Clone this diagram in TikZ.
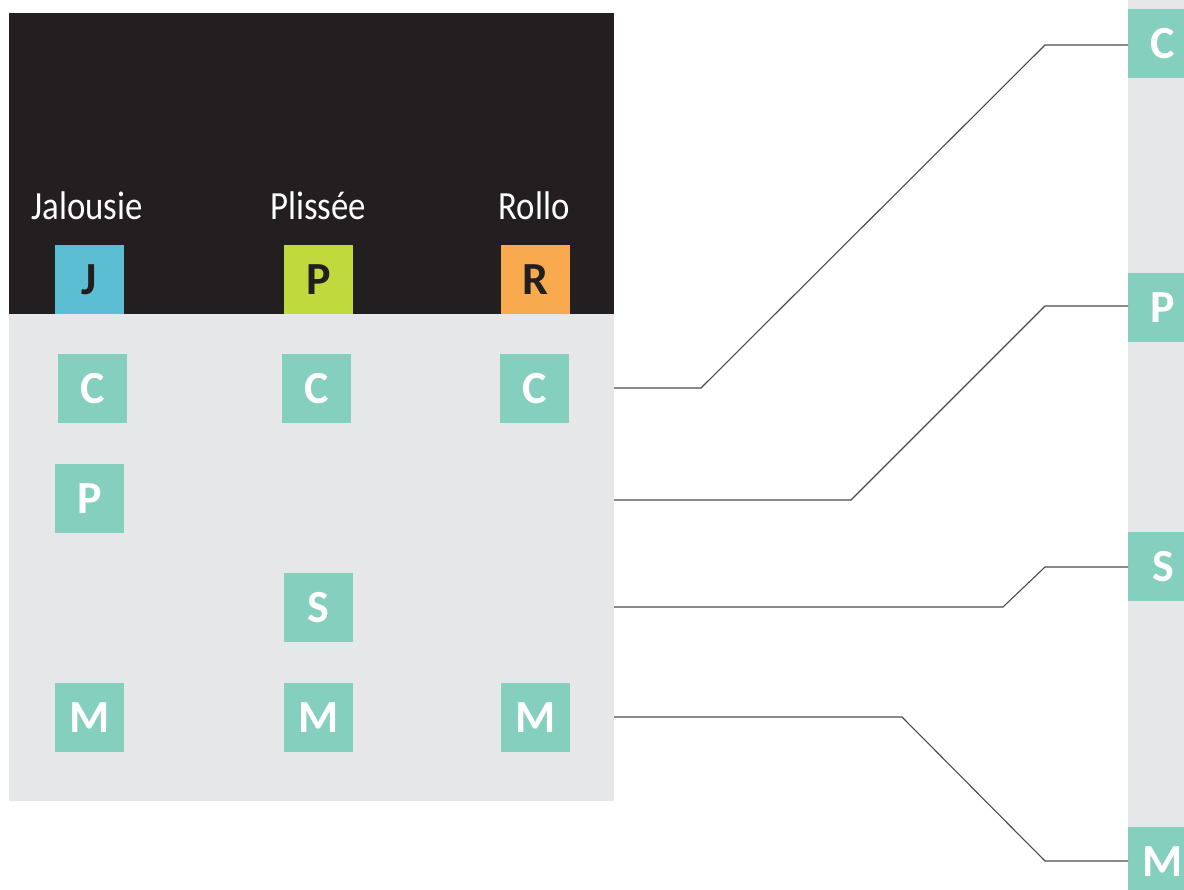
\documentclass[tikz,border=0pt]{standalone}
\usepackage{fontspec}
\setmainfont{Carlito}
\newfontfamily\condfont[FakeStretch=0.87]{Carlito}
\begin{document}
\begin{tikzpicture}[x=1pt,y=-1pt,
  tile/.style={minimum width=69pt,minimum height=69pt,inner sep=0pt,outer sep=0pt,
    font=\fontsize{46}{46}\selectfont\bfseries},
  feature/.style={tile,fill=tealc,text=white},
  head/.style={tile,text=inkc},
  label/.style={text=white,font=\condfont\fontsize{40}{40}\selectfont,inner sep=0pt},
  link/.style={draw=linec,line width=1.1pt}]
\definecolor{tealc}{HTML}{85CFBF}
\definecolor{inkc}{HTML}{231F20}
\definecolor{darkc}{HTML}{231F20}
\definecolor{greyc}{HTML}{E6E7E8}
\definecolor{bluec}{HTML}{5BBED2}
\definecolor{greenc}{HTML}{C0DA3E}
\definecolor{orangec}{HTML}{F9AA4F}
\definecolor{linec}{HTML}{4A4A4A}
\useasboundingbox (0,0) rectangle (1184,890);
% panels
\fill[darkc] (9,13) rectangle (614,314);
\fill[greyc] (9,314) rectangle (614,801);
\fill[greyc] (1128,0) rectangle (1184,890);
% column labels
\node[label] (lj) at (87,206) {Jalousie};
\node[label] (lp) at (318,206) {Plissée};
\node[label] (lr) at (534,206) {Rollo};
% header tiles
\node[head,fill=bluec] (hj) at (89.5,279.5) {J};
\node[head,fill=greenc] (hp) at (318.5,279.5) {P};
\node[head,fill=orangec] (hr) at (535.5,279.5) {R};
% feature tiles
\node[feature] (c1) at (92.5,388.5) {C};
\node[feature] (c2) at (316.5,388.5) {C};
\node[feature] (c3) at (534.5,388.5) {C};
\node[feature] (p1) at (89.5,498.5) {P};
\node[feature] (s2) at (318.5,607.5) {S};
\node[feature] (m1) at (89.5,717.5) {M};
\node[feature] (m2) at (318.5,717.5) {M};
\node[feature] (m3) at (535.5,717.5) {M};
% legend tiles on the right, clipped by the page edge
\begin{scope}
\clip (0,0) rectangle (1184,890);
\node[feature,anchor=west] (rc) at (1128,43.5) {\hspace*{1pt}C};
\node[feature,anchor=west] (rp) at (1128,307.5) {\hspace*{1pt}P};
\node[feature,anchor=west] (rs) at (1128,566.5) {\hspace*{1pt}S};
\node[feature,anchor=west] (rm) at (1128,861.5) {\hspace*{1pt}M};
\end{scope}
% connectors
\coordinate (oc) at (614,388);
\coordinate (op) at (614,500);
\coordinate (os) at (614,607);
\coordinate (om) at (614,717);
\draw[link] (oc) -- (701,388) -- (1045,45) -- (rc.west |- 0,45);
\draw[link] (op) -- (851,500) -- (1045,306) -- (rp.west |- 0,306);
\draw[link] (os) -- (1003,607) -- (1045,567) -- (rs.west |- 0,567);
\draw[link] (om) -- (902,717) -- (1045,861) -- (rm.west |- 0,861);
\end{tikzpicture}
\end{document}
